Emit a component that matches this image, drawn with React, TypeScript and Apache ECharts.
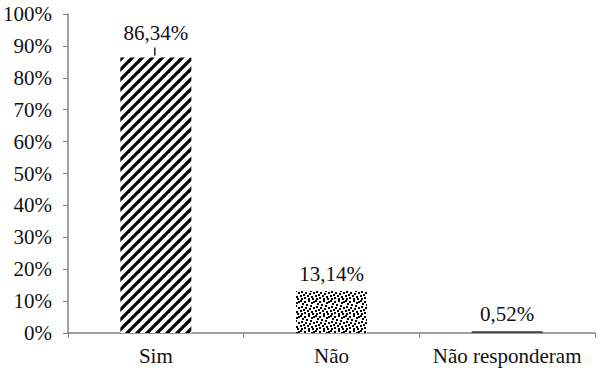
import React, { useEffect, useRef } from "react";
import * as echarts from "echarts";

const categories = ["Sim", "Não", "Não responderam"];
const values = [86.34, 13.14, 0.52];
const yTicks = [0, 10, 20, 30, 40, 50, 60, 70, 80, 90, 100];

function stripePattern(): HTMLCanvasElement {
  const c = document.createElement("canvas");
  c.width = 10;
  c.height = 10;
  const ctx = c.getContext("2d")!;
  ctx.fillStyle = "#fff";
  ctx.fillRect(0, 0, 10, 10);
  ctx.strokeStyle = "#000";
  ctx.lineWidth = 3.2;
  for (let k = -1; k <= 1; k++) {
    ctx.beginPath();
    ctx.moveTo(-2 + k * 10, 12);
    ctx.lineTo(12 + k * 10, -2);
    ctx.stroke();
  }
  return c;
}

// fixed speckle positions for the dotted texture
const dotPos: [number, number][] = [
  [0, 0], [4, 1], [8, 0], [11, 2], [2, 3], [6, 4], [10, 5], [1, 6],
  [5, 7], [9, 8], [3, 9], [7, 10], [11, 11], [0, 10], [13, 7], [13, 1], [12, 13], [4, 12], [8, 13], [1, 13]
];
function dotPattern(): HTMLCanvasElement {
  const c = document.createElement("canvas");
  c.width = 15;
  c.height = 15;
  const ctx = c.getContext("2d")!;
  ctx.fillStyle = "#fff";
  ctx.fillRect(0, 0, 15, 15);
  ctx.fillStyle = "#000";
  dotPos.forEach(([x, y]) => ctx.fillRect(x, y, 2, 2));
  return c;
}

export default function App() {
  const ref = useRef<HTMLDivElement>(null);
  useEffect(() => {
    const chart = echarts.init(ref.current!, null, { renderer: "svg" });
    const font = "'Liberation Serif', 'Times New Roman', serif";
    const stripes = stripePattern().toDataURL();
    const dots = dotPattern().toDataURL();
    const fills: any[] = [
      { image: stripes, repeat: "repeat" },
      { image: dots, repeat: "repeat" },
      "#404040",
    ];
    chart.setOption({
      animation: false,
      backgroundColor: "#fff",
      textStyle: { fontFamily: font },
      grid: { left: 68, right: 5, top: 14, bottom: 38 },
      xAxis: {
        type: "category",
        data: categories,
        axisLine: { lineStyle: { color: "#808080", width: 1.5 } },
        axisTick: { show: true, length: 5, lineStyle: { color: "#808080" } },
        axisLabel: { color: "#111", fontSize: 21, fontFamily: font, margin: 12, interval: 0, hideOverlap: false },
      },
      yAxis: {
        type: "value",
        min: 0,
        max: 100,
        interval: 10,
        splitLine: { show: false },
        axisLine: { show: true, lineStyle: { color: "#808080", width: 1.5 } },
        axisTick: { show: true, length: 5, lineStyle: { color: "#808080" } },
        axisLabel: {
          color: "#111",
          fontSize: 21,
          fontFamily: font,
          margin: 16,
          formatter: (v: number) => (yTicks.includes(v) ? v + "%" : ""),
        },
      },
      series: [
        {
          type: "bar",
          barWidth: 71,
          data: values.map((v, i) => ({
            value: v,
            itemStyle: { color: fills[i] },
            label: i === 0 ? { distance: 14 } : undefined,
          })),
          label: {
            show: true,
            position: "top",
            distance: 7,
            color: "#111",
            fontSize: 21,
            fontFamily: font,
            formatter: (p: any) => p.value.toFixed(2).replace(".", ",") + "%",
          },
        },
      ],
    });
    // leader line from the first label to its bar, placed through the chart's scales
    const top = chart.convertToPixel({ seriesIndex: 0 }, [0, values[0]]) as number[];
    chart.setOption({
      graphic: [
        {
          type: "line",
          shape: { x1: top[0] - 1, y1: top[1] - 2, x2: top[0] - 1, y2: top[1] - 10 },
          style: { stroke: "#000", lineWidth: 1.3 },
          z: 10,
        },
      ],
    });
    return () => chart.dispose();
  }, []);
  return <div ref={ref} style={{ width: 600, height: 371, position: "absolute", left: 0, top: 0 }} />;
}
